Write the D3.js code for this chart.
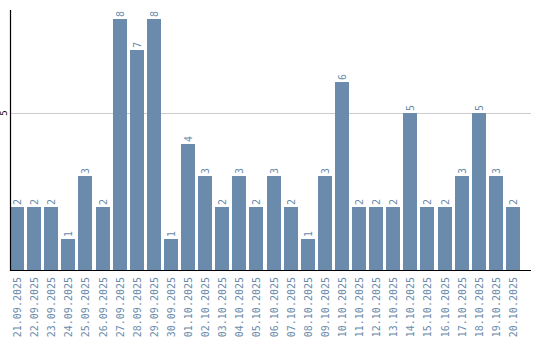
<!DOCTYPE html>
<html><head><meta charset="utf-8">
<script src="https://cdn.jsdelivr.net/npm/d3@7"></script>
<style>body{margin:0;background:#fff}</style>
</head><body><svg id="c" width="540" height="340"></svg>
<script>
const dates = ["21.09.2025","22.09.2025","23.09.2025","24.09.2025","25.09.2025","26.09.2025","27.09.2025","28.09.2025","29.09.2025","30.09.2025","01.10.2025","02.10.2025","03.10.2025","04.10.2025","05.10.2025","06.10.2025","07.10.2025","08.10.2025","09.10.2025","10.10.2025","11.10.2025","12.10.2025","13.10.2025","14.10.2025","15.10.2025","16.10.2025","17.10.2025","18.10.2025","19.10.2025","20.10.2025"];
const values = [2,2,2,1,3,2,8,7,8,1,4,3,2,3,2,3,2,1,3,6,2,2,2,5,2,2,3,5,3,2];
const yTicks = [5];

const svg = d3.select("#c");
const color = "#6a8bab";
const mLeft = 10, mRight = 520, mTop = 10, mBottom = 270;
const x = d3.scaleBand().domain(dates).range([mLeft, mRight]).paddingInner(3/17).paddingOuter(0).align(0);
const y = d3.scaleLinear().domain([0, 8.28]).range([mBottom, mTop]);

// gridlines
svg.selectAll("line.grid").data(yTicks).enter().append("line")
  .attr("x1", mLeft).attr("x2", 531).attr("y1", d => Math.round(y(d))+0.5).attr("y2", d => Math.round(y(d))+0.5)
  .attr("stroke", "#cccccc").attr("stroke-width", 1);

// bars
svg.selectAll("rect.bar").data(values).enter().append("rect")
  .attr("x", (d,i) => Math.round(x(dates[i])))
  .attr("width", 14)
  .attr("y", d => Math.round(y(d)))
  .attr("height", d => mBottom - Math.round(y(d)))
  .attr("fill", color);

// value labels
svg.selectAll("text.val").data(values).enter().append("text")
  .attr("transform", (d,i) => `translate(${Math.round(x(dates[i])) + 7 + 3.5},${Math.round(y(d)) - 2}) rotate(-90)`)
  .attr("font-family", "DejaVu Sans Mono, monospace").attr("font-size", 10)
  .attr("fill", color).text(d => d);

// x labels
svg.selectAll("text.xl").data(dates).enter().append("text")
  .attr("transform", d => `translate(${Math.round(x(d)) + 7 + 3.5},277) rotate(-90)`)
  .attr("text-anchor", "end")
  .attr("font-family", "DejaVu Sans Mono, monospace").attr("font-size", 10)
  .attr("fill", color).text(d => d);

// y tick labels
svg.selectAll("text.yl").data(yTicks).enter().append("text")
  .attr("transform", d => `translate(7,${y(d)}) rotate(-90)`)
  .attr("text-anchor", "middle")
  .attr("font-family", "DejaVu Sans Mono, monospace").attr("font-size", 9)
  .attr("fill", "#000").text(d => d);

// axes lines
svg.append("line").attr("x1", 10.5).attr("x2", 10.5).attr("y1", mTop).attr("y2", mBottom+1)
  .attr("stroke", "#000").attr("stroke-width", 1.2);
svg.append("line").attr("x1", 10).attr("x2", 531).attr("y1", 270.5).attr("y2", 270.5)
  .attr("stroke", "#000").attr("stroke-width", 1.2);
</script></body></html>
